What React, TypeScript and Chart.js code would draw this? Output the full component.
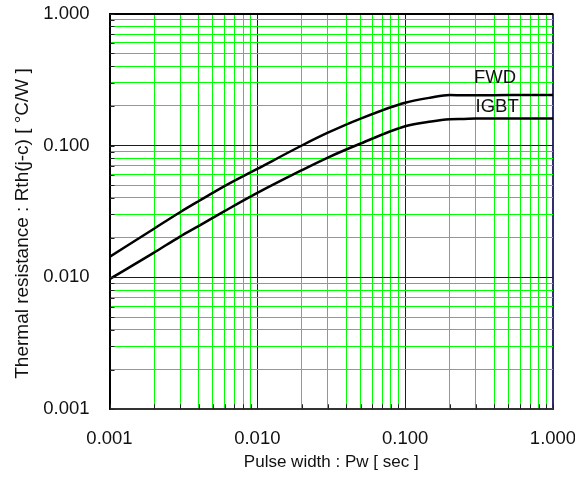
import React, { useEffect, useRef } from 'react';
import { Chart, registerables } from 'chart.js';

Chart.register(...registerables);

// ---- data ----
const pulseWidth = [0.001, 0.002, 0.003, 0.004, 0.006, 0.01, 0.02, 0.03, 0.05, 0.1, 0.15, 0.2, 0.25, 0.3, 0.5, 1.0];
const fwdRth = [0.0143, 0.0234, 0.0312, 0.0378, 0.0492, 0.0665, 0.1, 0.125, 0.16, 0.211, 0.231, 0.241, 0.24, 0.24, 0.241, 0.241];
const igbtRth = [0.0097, 0.0154, 0.0204, 0.0245, 0.0318, 0.0437, 0.065, 0.081, 0.1035, 0.14, 0.152, 0.158, 0.159, 0.16, 0.16, 0.16];
const seriesNames = ['FWD', 'IGBT'];

const xDecades = [0.001, 0.01, 0.1, 1];
const yDecades = [0.001, 0.01, 0.1, 1];
const mantissas = [1, 2, 3, 4, 5, 6, 7, 8, 9];
const xTickLabels = ['0.001', '0.010', '0.100', '1.000'];
const yTickLabels = ['0.001', '0.010', '0.100', '1.000'];

const xTitle = 'Pulse width : Pw [ sec ]';
const yTitle = 'Thermal resistance : Rth(j-c) [ °C/W ]';

function tickValues(decades: number[]): number[] {
  const out: number[] = [];
  for (let i = 0; i < decades.length - 1; i++) {
    for (const m of mantissas) out.push(+(decades[i] * m).toPrecision(6));
  }
  out.push(decades[decades.length - 1]);
  return out;
}

const xTickValues = tickValues(xDecades);
const yTickValues = tickValues(yDecades);

const FONT = "'Liberation Sans', Arial, sans-serif";
const GREEN = '#00ff00';
const BLUE = '#0000ff';

function isDecade(v: number) {
  if (!(v > 0)) return false;
  const l = Math.log10(v);
  return Math.abs(l - Math.round(l)) < 1e-6;
}

function labelFor(v: number, decades: number[], labels: string[]) {
  for (let i = 0; i < decades.length; i++) {
    if (Math.abs(v - decades[i]) / decades[i] < 1e-6) return labels[i];
  }
  return '';
}

const overlayPlugin = {
  id: 'overlay',
  afterDraw(chart: any) {
    const { ctx, chartArea, scales } = chart;
    const xs = scales.x;
    const ys = scales.y;
    ctx.save();
    ctx.strokeStyle = '#222';
    ctx.lineWidth = 1;
    ctx.beginPath();
    for (const t of ys.ticks) {
      const py = Math.round(ys.getPixelForValue(t.value)) + 0.5;
      ctx.moveTo(chartArea.left, py);
      ctx.lineTo(chartArea.left + 5, py);
    }
    for (const t of xs.ticks) {
      const px = Math.round(xs.getPixelForValue(t.value)) + 0.5;
      ctx.moveTo(px, chartArea.bottom);
      ctx.lineTo(px, chartArea.bottom - 5);
    }
    ctx.stroke();
    ctx.fillStyle = '#111';
    ctx.font = `18.5px ${FONT}`;
    ctx.textAlign = 'center';
    ctx.textBaseline = 'middle';
    ctx.fillText(seriesNames[0], xs.getPixelForValue(0.405), ys.getPixelForValue(0.323));
    ctx.fillText(seriesNames[1], xs.getPixelForValue(0.419), ys.getPixelForValue(0.196));
    // y-axis title
    ctx.translate(23, (chartArea.top + chartArea.bottom) / 2 + 12);
    ctx.rotate(-Math.PI / 2);
    ctx.font = `19px ${FONT}`;
    ctx.fillText(yTitle, 0, 0);
    ctx.restore();
  },
};

function zeroPad(s: any) {
  s.paddingTop = 0;
  s.paddingBottom = 0;
  s.paddingLeft = 0;
  s.paddingRight = 0;
}

export default function App() {
  const ref = useRef<HTMLCanvasElement>(null);
  useEffect(() => {
    const chart = new Chart(ref.current as HTMLCanvasElement, {
      type: 'line',
      data: {
        datasets: [
          {
            label: seriesNames[0],
            data: pulseWidth.map((x, i) => ({ x, y: fwdRth[i] })),
            borderColor: '#000',
            borderWidth: 2.5,
            pointRadius: 0,
            cubicInterpolationMode: 'monotone',
            fill: false,
          },
          {
            label: seriesNames[1],
            data: pulseWidth.map((x, i) => ({ x, y: igbtRth[i] })),
            borderColor: '#000',
            borderWidth: 2.5,
            pointRadius: 0,
            cubicInterpolationMode: 'monotone',
            fill: false,
          },
        ],
      },
      options: {
        animation: false,
        responsive: true,
        maintainAspectRatio: false,
        layout: { padding: { left: 0, right: 22, top: 13.6, bottom: 0 } },
        plugins: { legend: { display: false }, tooltip: { enabled: false } },
        scales: {
          x: {
            type: 'logarithmic',
            min: 0.001,
            max: 1,
            afterBuildTicks: (s: any) => {
              s.ticks = xTickValues.map((v) => ({ value: v }));
            },
            afterFit: (s: any) => {
              s.height = 69.7;
              zeroPad(s);
            },
            ticks: {
              autoSkip: false,
              maxRotation: 0,
              padding: 19,
              color: '#111',
              font: { family: FONT, size: 18.5 },
              callback: (v: any) => labelFor(Number(v), xDecades, xTickLabels),
            },
            grid: {
              drawTicks: false,
              color: (c: any) => {
                const v = c.tick ? c.tick.value : 0;
                if (Math.abs(v - 1) < 1e-9) return '#2f2f6a';
                return isDecade(v) ? BLUE : GREEN;
              },
              lineWidth: (c: any) => {
                const v = c.tick ? c.tick.value : 0;
                return Math.abs(v - 1) < 1e-9 ? 2 : 1;
              },
            },
            border: { color: '#333', width: 2 },
            title: {
              display: true,
              text: xTitle,
              color: '#111',
              font: { family: FONT, size: 17 },
              padding: { top: 0, bottom: 6 },
            },
          },
          y: {
            type: 'logarithmic',
            min: 0.001,
            max: 1,
            afterBuildTicks: (s: any) => {
              s.ticks = yTickValues.map((v) => ({ value: v }));
            },
            afterFit: (s: any) => {
              s.width = 109.5;
              zeroPad(s);
            },
            ticks: {
              autoSkip: false,
              padding: 20,
              color: '#111',
              font: { family: FONT, size: 18.5 },
              callback: (v: any) => labelFor(Number(v), yDecades, yTickLabels),
            },
            grid: {
              drawTicks: false,
              color: (c: any) => {
                const v = c.tick ? c.tick.value : 0;
                if (Math.abs(v - 1) < 1e-9) return '#000';
                return isDecade(v) ? BLUE : GREEN;
              },
              lineWidth: (c: any) => {
                const v = c.tick ? c.tick.value : 0;
                return Math.abs(v - 1) < 1e-9 ? 2 : 1;
              },
            },
            border: { color: '#000', width: 2 },
            title: { display: false },
          },
        },
      },
      plugins: [overlayPlugin],
    } as any);
    return () => chart.destroy();
  }, []);
  return (
    <div style={{ position: 'fixed', left: 0, top: 0, width: 575, height: 479 }}>
      <canvas ref={ref} />
    </div>
  );
}
